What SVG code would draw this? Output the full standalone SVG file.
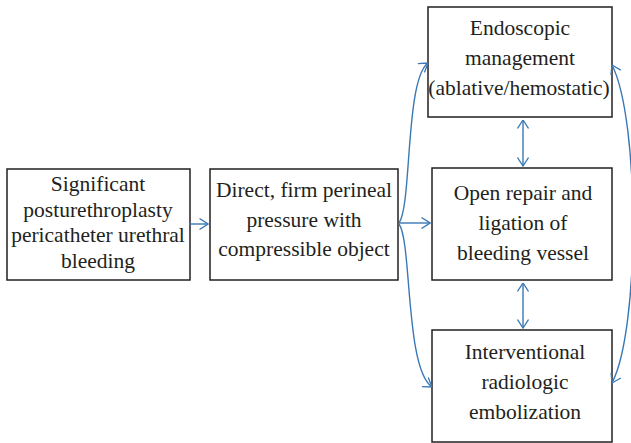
<svg xmlns="http://www.w3.org/2000/svg" width="631" height="443" viewBox="0 0 631 443">
<defs>
<marker id="ah" viewBox="0 0 10 12" refX="9.5" refY="6" markerWidth="10" markerHeight="12" markerUnits="userSpaceOnUse" orient="auto-start-reverse">
<path d="M1,0.5 L9.5,6 L1,11.5" fill="none" stroke="#3a78b5" stroke-width="1.3"/>
</marker>
</defs>
<style>
.box{fill:#fff;stroke:#231f20;stroke-width:1.5}
.t{font-family:"Liberation Serif","Times New Roman",serif;font-size:21.5px;fill:#231f20;text-anchor:middle}
.c{fill:none;stroke:#3a78b5;stroke-width:1.4}
</style>
<g id="n1">
<rect class="box" x="7" y="169" width="183" height="111"/>
<text class="t"><tspan x="98" y="191">Significant</tspan><tspan x="98" y="217">posturethroplasty</tspan><tspan x="98" y="242">pericatheter urethral</tspan><tspan x="98" y="268">bleeding</tspan></text>
</g>
<g id="n2">
<rect class="box" x="210" y="169" width="188" height="111"/>
<text class="t"><tspan x="304" y="197">Direct, firm perineal</tspan><tspan x="304" y="227">pressure with</tspan><tspan x="304" y="256">compressible object</tspan></text>
</g>
<g id="n3">
<rect class="box" x="428" y="7" width="184" height="110"/>
<text class="t"><tspan x="520" y="35">Endoscopic</tspan><tspan x="520" y="65">management</tspan><tspan x="519" y="95">(ablative/hemostatic)</tspan></text>
</g>
<g id="n4">
<rect class="box" x="432" y="168" width="180" height="112"/>
<text class="t"><tspan x="523" y="200">Open repair and</tspan><tspan x="523" y="230">ligation of</tspan><tspan x="523" y="260">bleeding vessel</tspan></text>
</g>
<g id="n5">
<rect class="box" x="432" y="330" width="180" height="112"/>
<text class="t"><tspan x="525" y="359">Interventional</tspan><tspan x="525" y="389">radiologic</tspan><tspan x="525" y="419">embolization</tspan></text>
</g>
<g id="connectors">
<path class="c" d="M190,224 L208,224" marker-end="url(#ah)"/>
<path class="c" d="M399,223 L430,223" marker-end="url(#ah)"/>
<path class="c" d="M399,223 C412,205 405,80 428,63" marker-end="url(#ah)"/>
<path class="c" d="M399,224 C412,242 405,368 432,387" marker-end="url(#ah)"/>
<path class="c" d="M523,120 L523,166" marker-start="url(#ah)" marker-end="url(#ah)"/>
<path class="c" d="M523,283 L523,328" marker-start="url(#ah)" marker-end="url(#ah)"/>
<path class="c" d="M612,65 C640,120 640,330 612,383" marker-start="url(#ah)" marker-end="url(#ah)"/>
</g>
</svg>
